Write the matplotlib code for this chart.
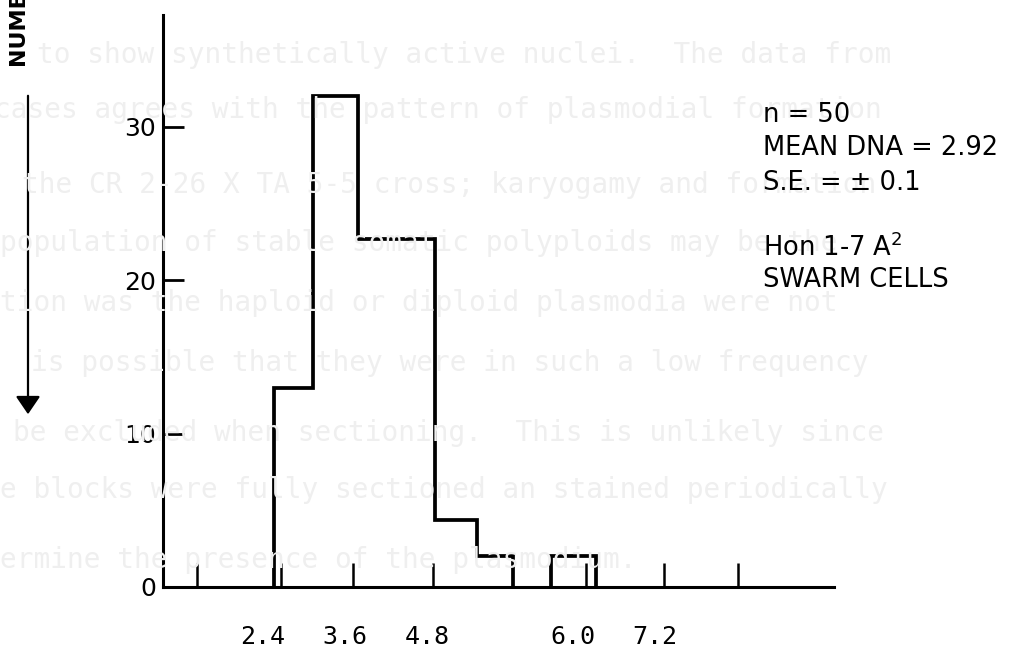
import matplotlib
matplotlib.use("Agg")
import matplotlib.pyplot as plt

# histogram (x in DNA units, y = number of cells)
bin_edges = [2.4, 3.0, 3.7, 4.9, 5.55, 6.1]
bin_counts = [13, 32, 22.7, 4.4, 2.0]
far_edges = [6.7, 7.4]
far_counts = [2.0]

x_ticks = [1.2, 2.5, 3.62, 4.86, 7.24, 8.45, 9.6]
x_labels = ["2.4", "3.6", "4.8", "6.0", "7.2"]
x_label_pos = [2.22, 3.5, 4.77, 7.04, 8.31]
y_ticks = [0, 10, 20, 30]

stats_lines = ["n = 50", "MEAN DNA = 2.92", "S.E. = \u00b1 0.1", "Hon 1-7 A$^2$", "SWARM CELLS"]
stats_y = [115, 148, 183, 248, 280]

# faint typewritten text showing through from the page
page_lines = [
    "to show synthetically active nuclei.  The data from",
    "cases agrees with the pattern of plasmodial formation",
    "the CR 2-26 X TA 5-5 cross; karyogamy and formation",
    "population of stable somatic polyploids may be the",
    "tion was the haploid or diploid plasmodia were not",
    "is possible that they were in such a low frequency",
    "be excluded when sectioning.  This is unlikely since",
    "e blocks were fully sectioned an stained periodically",
    "ermine the presence of the plasmodium.",
]
page_x = [37, -6, 22, 0, 0, 31, 13, 0, 0]
page_y = [55, 110, 185, 243, 303, 363, 433, 490, 560]

W, H = 1025, 660
fig = plt.figure(figsize=(W / 100, H / 100), dpi=100)
fig.patch.set_facecolor("white")

for s, px, py in zip(page_lines, page_x, page_y):
    fig.text(px / W, 1 - py / H, s, family="DejaVu Sans Mono", fontsize=20,
             color="#efefef", va="center", ha="left", zorder=0)

ax = fig.add_axes([163 / W, 73 / H, 671 / W, 572 / H])
ax.patch.set_alpha(0)
ax.set_xlim(0.672, 11.09)
ax.set_ylim(0, 37.3)

ax.stairs(bin_counts, bin_edges, baseline=0, color="black", lw=2.7)
ax.stairs(far_counts, far_edges, baseline=0, color="black", lw=2.7)

for sp in ["top", "right"]:
    ax.spines[sp].set_visible(False)
for sp in ["left", "bottom"]:
    ax.spines[sp].set_linewidth(2.2)

ax.set_xticks(x_ticks)
ax.set_xticklabels([])
ax.tick_params(axis="x", direction="in", length=17, width=1.8)
ax.set_yticks(y_ticks)
ax.tick_params(axis="y", direction="in", length=15, width=2.0, pad=5, labelsize=18)

for lab, xp in zip(x_labels, x_label_pos):
    ax.text(xp, -3.26, lab, family="DejaVu Sans Mono", fontsize=18,
            ha="center", va="center", clip_on=False)

for s, yy in zip(stats_lines, stats_y):
    fig.text(763 / W, 1 - yy / H, s, fontsize=18.5, ha="left", va="center")

# rotated axis title, cut off at the top edge of the page
fig.text(18 / W, 1 - 65 / H, "NUMBER", rotation=90, fontsize=16, fontweight="bold",
         family=["Liberation Sans Narrow", "DejaVu Sans"], ha="center", va="bottom")
ax.annotate("", xy=(28, H - 417), xytext=(28, H - 93), xycoords="figure pixels",
            textcoords="figure pixels",
            arrowprops=dict(arrowstyle="-|>,head_length=1.1,head_width=0.75",
                            color="black", lw=1.6))

fig.savefig("out.png", dpi=100, facecolor="white")
